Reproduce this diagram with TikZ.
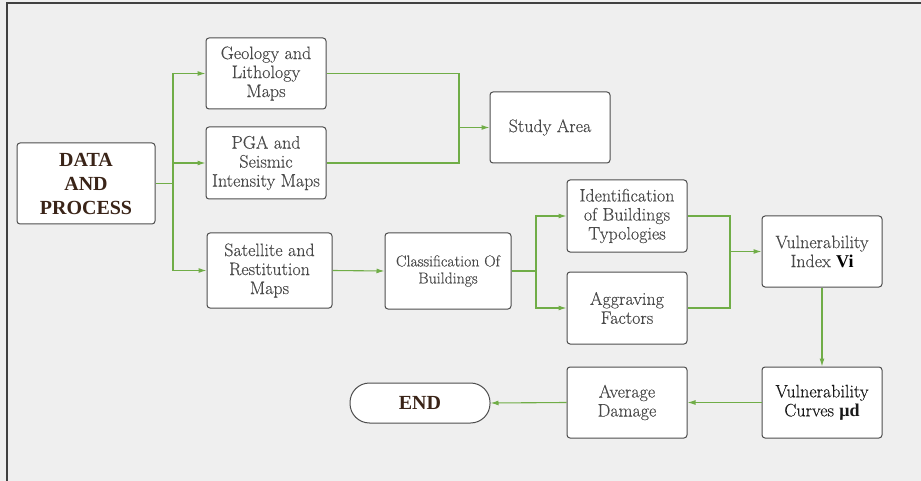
\documentclass[tikz,border=0pt]{standalone}
\usepackage{fontspec}
\newfontfamily\titlefont{Liberation Serif}
\newfontfamily\boxfont{Latin Modern Roman}[FakeBold=0.3,AutoFakeBold=0.3]
\usetikzlibrary{arrows.meta}
\definecolor{bg}{HTML}{EFEFEF}
\definecolor{txt}{HTML}{4A4A4A}
\definecolor{edge}{HTML}{70AD47}
\definecolor{bordc}{HTML}{4D4D4D}
\definecolor{titc}{HTML}{3A2418}
\tikzset{
  box/.style={draw=bordc, fill=white, line width=1pt, rounded corners=3pt,
    align=center, text=txt, inner sep=1pt,
    font=\boxfont\fontsize{18}{19}\selectfont},
  conn/.style={draw=edge, line width=1.1pt},
  arr/.style={conn, -{Latex[length=8pt,width=5pt]}},
}
\begin{document}
\begin{tikzpicture}[x=1pt,y=-1pt]
\fill[bg] (0,0) rectangle (921,481);
\useasboundingbox (0,0) rectangle (921,481);
\draw[line width=1.5pt, color=black!75] (7,481) -- (7,3) -- (921,3);

\node[box, minimum width=138, minimum height=81, text=titc,
  font=\titlefont\bfseries\fontsize{20}{24}\selectfont] (data) at (86,183.5) {DATA\\AND\\PROCESS};
\node[box, minimum width=120, minimum height=71] (geo) at (266,73.5) {Geology and\\Lithology\\Maps};
\node[box, minimum width=120, minimum height=72] (pga) at (266,163) {PGA and\\Seismic\\Intensity Maps};
\node[box, minimum width=125, minimum height=75] (sat) at (269.5,270.5) {Satellite and\\Restitution\\Maps};
\node[box, minimum width=120, minimum height=71] (study) at (550,127.5) {Study Area};
\node[box, minimum width=126, minimum height=76, font=\boxfont\fontsize{15.8}{17}\selectfont] (cls) at (448,271) {Classification Of\\Buildings};
\node[box, minimum width=120, minimum height=72] (ident) at (627,216) {Identification\\of Buildings\\Typologies};
\node[box, minimum width=120, minimum height=72] (aggr) at (627,308) {Aggraving\\Factors};
\node[box, minimum width=120, minimum height=71] (vi) at (822,251.5) {Vulnerability\\Index \textcolor{black}{{\titlefont\bfseries Vi}}};
\node[box, minimum width=120, minimum height=71, text=black!90] (vc) at (822,402.5) {Vulnerability\\Curves {\titlefont\bfseries μd}};
\node[box, minimum width=120, minimum height=71] (ad) at (627,402.5) {Average\\Damage};
\node[box, minimum width=140, minimum height=40, rounded corners=19.5pt, text=titc,
  font=\titlefont\bfseries\fontsize{20}{24}\selectfont] (end) at (420,403) {END};

\coordinate (j1) at (173,183.5);
\coordinate (j2) at (459,127.5);
\coordinate (j3) at (536,271);
\coordinate (j4) at (730,251.5);

\draw[conn] (data.east) -- (j1);
\draw[arr] (j1) |- (geo.west);
\draw[arr] (j1) |- (pga.west);
\draw[arr] (j1) |- (sat.west);
\draw[conn] (geo.east) -| (j2);
\draw[conn] (pga.east) -| (j2);
\draw[arr] (j2) -- (study.west);
\draw[arr] (sat.east) -- (cls.west);
\draw[conn] (cls.east) -- (j3);
\draw[arr] (j3) |- (ident.west);
\draw[arr] (j3) |- (aggr.west);
\draw[conn] (ident.east) -| (j4);
\draw[conn] (aggr.east) -| (j4);
\draw[arr] (j4) -- (vi.west);
\draw[arr] (vi.south) -- (vc.north);
\draw[arr] (vc.west) -- (ad.east);
\draw[arr] (ad.west) -- (end.east);
\end{tikzpicture}
\end{document}
